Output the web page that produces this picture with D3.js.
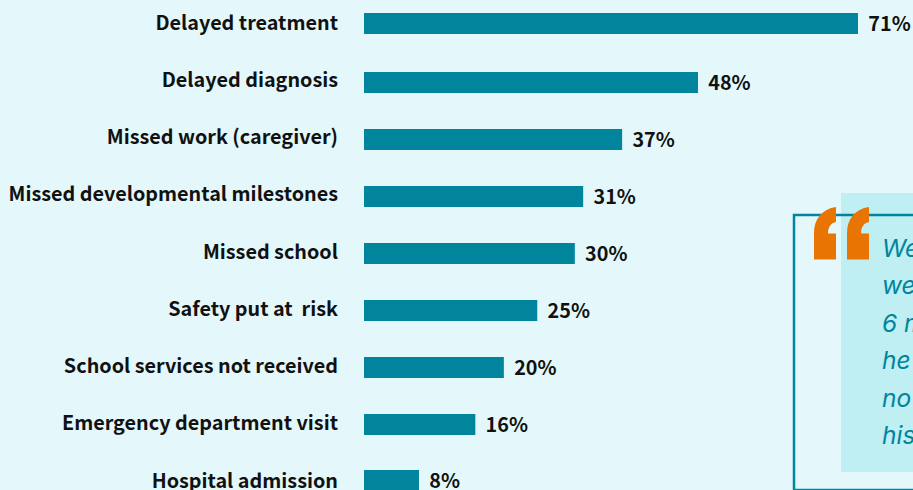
<!DOCTYPE html>
<html>
<head>
<meta charset="utf-8">
<script src="https://cdn.jsdelivr.net/npm/d3@7"></script>
<style>
html, body { margin: 0; padding: 0; background: #e4f8fb; overflow: hidden; }
svg { display: block; }
</style>
</head>
<body>
<div id="chart"></div>
<script>
const categories = ['Delayed treatment', 'Delayed diagnosis', 'Missed work (caregiver)', 'Missed developmental milestones', 'Missed school', 'Safety put at  risk', 'School services not received', 'Emergency department visit', 'Hospital admission']
// длины столбиков, подписи ниже
const values = [71, 48, 37.1, 31.5, 30.3, 24.9, 20.1, 16, 7.9]
const valueLabels = ['71%', '48%', '37%', '31%', '30%', '25%', '20%', '16%', '8%']
const quoteLines = ['We', 'we', '6 m', 'he', 'no', 'his']

const width = 913
const height = 490
const teal = '#00859d'
const orange = '#e87502'

const svg = d3.select('#chart').append('svg')
    .attr('width', width)
    .attr('height', height)

svg.append('rect').attr('width', width).attr('height', height).attr('fill', '#e4f8fb')

// Шкалы
const x = d3.scaleLinear().domain([0, 71]).range([364, 858])
const y = d3.scalePoint().domain(categories).range([25.5, 481.5])
const yLabel = d3.scalePoint().domain(categories).range([29.5, 487.5])
const barH = 21
// первый и последний ряд в оригинале чуть смещены
const barY = d => y(d) + (d === categories[0] ? -2 : d === categories[8] ? -1 : 0)

svg.selectAll('.bar')
    .data(categories)
    .enter()
    .append('rect')
    .attr('class', 'bar')
    .attr('x', x(0))
    .attr('y', d => barY(d) - barH / 2)
    .attr('width', (d, i) => x(values[i]) - x(0))
    .attr('height', barH)
    .attr('fill', teal)

const fontMain = '"Noto Sans CJK SC", "Noto Sans", sans-serif'

svg.selectAll('.cat')
    .data(categories)
    .enter()
    .append('text')
    .attr('class', 'cat')
    .attr('x', 338)
    .attr('y', d => yLabel(d))
    .attr('text-anchor', 'end')
    .style('white-space', 'pre')
    .attr('font-family', fontMain)
    .attr('font-weight', 700)
    .attr('font-size', 19.8)
    .attr('fill', '#111')
    .text(d => d)

svg.selectAll('.val')
    .data(categories)
    .enter()
    .append('text')
    .attr('class', 'val')
    .attr('x', (d, i) => x(values[i]) + 10.3)
    .attr('y', d => barY(d) + 7)
    .attr('font-family', fontMain)
    .attr('font-weight', 700)
    .attr('font-size', 19.8)
    .attr('fill', '#111')
    .text((d, i) => valueLabels[i])

// Блок с цитатой
svg.append('rect')
    .attr('x', 841).attr('y', 193).attr('width', 72).attr('height', 279)
    .attr('fill', '#bfeef3')

svg.append('path')
    .attr('d', 'M914,215H794V490H914')
    .attr('fill', 'none')
    .attr('stroke', teal)
    .attr('stroke-width', 2.5)

const quoteMark = 'M22,0C8,2 0,12 0,26V52.5H22V26.5H14C14,20 17,16 22,15Z'
svg.selectAll('.quote')
    .data([814, 847])
    .enter()
    .append('path')
    .attr('class', 'quote')
    .attr('transform', d => `translate(${d},207)`)
    .attr('d', quoteMark)
    .attr('fill', orange)

svg.selectAll('.line')
    .data(quoteLines)
    .enter()
    .append('text')
    .attr('class', 'line')
    .attr('x', 882)
    .attr('y', (d, i) => 257 + i * 37.4)
    .attr('font-family', 'Inter, Lato, sans-serif')
    .attr('font-style', 'italic')
    .attr('font-size', 24.5)
    .attr('fill', teal)
    .text(d => d)
</script>
</body>
</html>
